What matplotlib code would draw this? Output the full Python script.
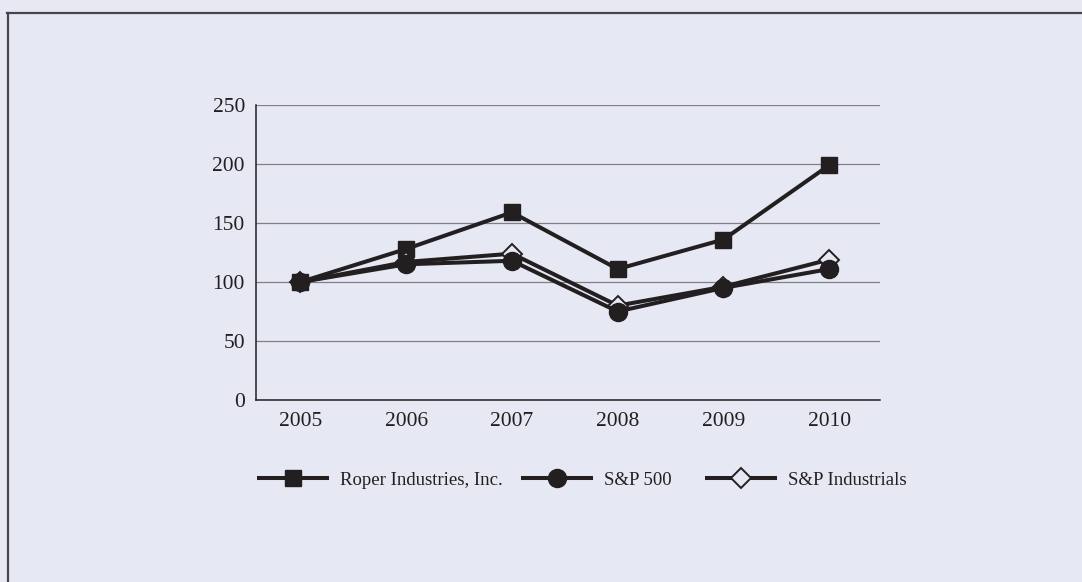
import matplotlib
matplotlib.use("Agg")
import matplotlib.pyplot as plt
from matplotlib.lines import Line2D

years = ["2005", "2006", "2007", "2008", "2009", "2010"]
roper = [100, 128, 159, 111, 136, 199]
sp500 = [100, 115, 118, 75, 95, 111]
sp_ind = [100, 117, 124, 80, 96, 119]
yticks = [0, 50, 100, 150, 200, 250]
labels = ["Roper Industries, Inc.", "S&P 500", "S&P Industrials"]

BG = "#e6e8f4"
INK = "#231f20"
plt.rcParams["font.family"] = ["Liberation Serif", "DejaVu Serif"]

fig = plt.figure(figsize=(10.82, 5.82), dpi=100, facecolor=BG)
ax = fig.add_axes([256/1082, 1-400/582, (880-256)/1082, (400-105)/582])
ax.set_facecolor(BG)

x = list(range(len(years)))
lw = 2.9
h1, = ax.plot(x, roper, color=INK, lw=lw, marker="s", ms=11.5, mfc=INK, mec=INK, zorder=3)
h3, = ax.plot(x, sp_ind, color=INK, lw=lw, marker="D", ms=10, mfc=BG, mec=INK, mew=1.4, zorder=4)
h2, = ax.plot(x, sp500, color=INK, lw=lw, marker="o", ms=13, mfc=INK, mec=INK, zorder=5)

ax.set_xlim(-0.42, 5.48)
ax.set_ylim(0, 250)
ax.set_xticks(x)
ax.set_xticklabels(years)
ax.set_yticks(yticks)
ax.tick_params(axis="both", length=0, labelsize=15.5, colors=INK)
ax.tick_params(axis="x", pad=9)
ax.tick_params(axis="y", pad=8)
ax.yaxis.grid(True, color="#7f7f85", lw=0.9)
ax.set_axisbelow(True)
for s in ["top", "right"]:
    ax.spines[s].set_visible(False)
for s in ["left", "bottom"]:
    ax.spines[s].set_color(INK)
    ax.spines[s].set_linewidth(1.1)

# legend entries placed individually
pos = [259, 523, 707]
handles = [h1, h2, h3]
for i, (h, lab, px) in enumerate(zip(handles, labels, pos)):
    leg = ax.legend([h], [lab], loc="center left",
                    bbox_to_anchor=(px/1082, 1-480/582), bbox_transform=fig.transFigure,
                    frameon=False, fontsize=13.5, handlelength=3.6, handletextpad=0.7,
                    borderpad=0, borderaxespad=0, numpoints=1)
    for t in leg.get_texts():
        t.set_color(INK)
    if i < 2:
        ax.add_artist(leg)

# frame lines
fig.add_artist(Line2D([7/1082, 1], [1-13/582, 1-13/582], transform=fig.transFigure,
                      color="#45454a", lw=1.6))
fig.add_artist(Line2D([7.5/1082, 7.5/1082], [0, 1-13/582], transform=fig.transFigure,
                      color="#45454a", lw=1.6))

fig.savefig("out.png", dpi=100, facecolor=BG)
